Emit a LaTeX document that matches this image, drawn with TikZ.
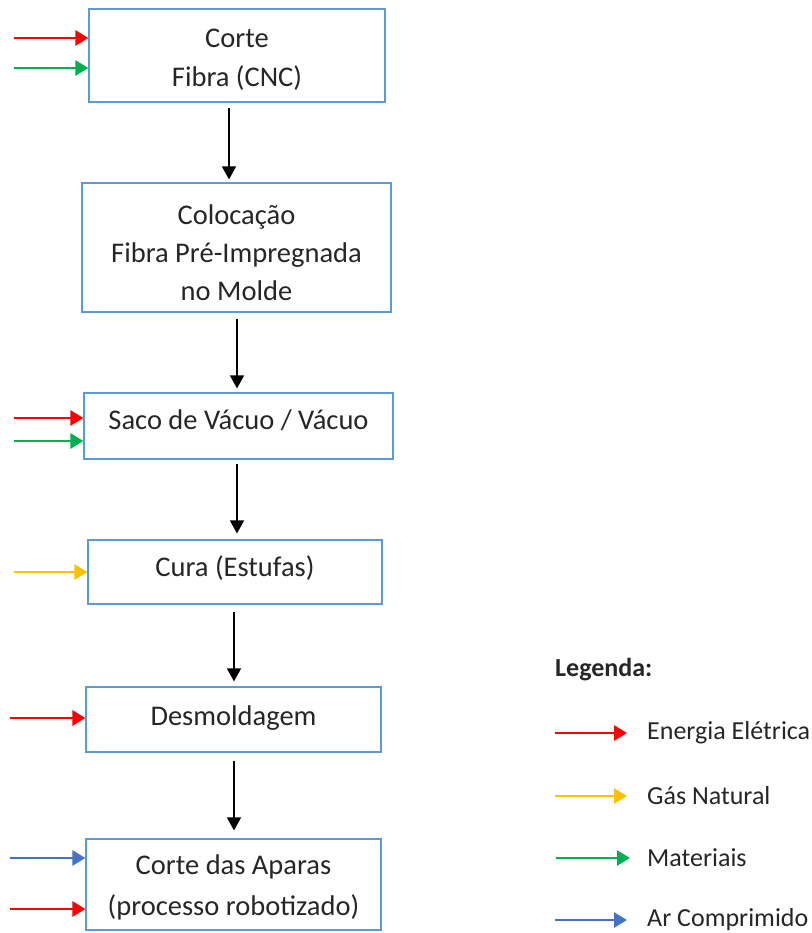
\documentclass[tikz,border=0pt]{standalone}
\usepackage{fontspec}
\setmainfont{Carlito}
\usetikzlibrary{arrows.meta,calc}
\definecolor{boxline}{HTML}{5B9BD5}
\definecolor{elec}{HTML}{FF0000}
\definecolor{gas}{HTML}{FFC000}
\definecolor{mat}{HTML}{00B050}
\definecolor{air}{HTML}{4472C4}
\begin{document}
\begin{tikzpicture}[x=1pt,y=-1pt,
  stepbox/.style={draw=boxline,line width=1.2pt,inner sep=0pt},
  steptext/.style={align=center,inner sep=0pt,text=black!85,
    font=\fontsize{28.5}{#1}\selectfont},
  steptext/.default=38,
  flow/.style={line width=1.6pt,-{Triangle[length=13pt,width=14pt]}},
  feed/.style={line width=2.8pt,-{Triangle[length=13pt,width=15pt]}},
  legtxt/.style={anchor=west,font=\fontsize{26}{30}\selectfont,text=black!85,inner sep=0pt}]
\useasboundingbox (0,0) rectangle (811,933);

% process steps (box with its caption set as a centred label)
\node[stepbox,minimum width=296pt,minimum height=93pt,
  label={[steptext=39,yshift=-4.5pt]center:Corte\\Fibra (CNC)}] (b1) at (237,55.5) {};
\node[stepbox,minimum width=309pt,minimum height=129pt,
  label={[steptext=38,yshift=-5pt]center:Colocação\\Fibra Pré-Impregnada\\no Molde}] (b2) at (236.5,247.5) {};
\node[stepbox,minimum width=309pt,minimum height=66pt,
  label={[steptext,yshift=6pt]center:Saco de Vácuo / Vácuo}] (b3) at (238.5,426) {};
\node[stepbox,minimum width=294pt,minimum height=64pt,
  label={[steptext,yshift=4pt]center:Cura (Estufas)}] (b4) at (235,572) {};
\node[stepbox,minimum width=295pt,minimum height=65pt,
  label={[steptext,yshift=1.5pt]center:Desmoldagem}] (b5) at (233.5,719.5) {};
\node[stepbox,minimum width=295pt,minimum height=91pt,
  label={[steptext=41,yshift=-2.5pt]center:Corte das Aparas\\(processo robotizado)}] (b6) at (233.5,884.5) {};

% flow between steps
\draw[flow] ([xshift=-8pt,yshift=-5pt]b1.south) -- ([xshift=-7.5pt,yshift=3pt]b2.north);
\draw[flow] ([xshift=0.5pt,yshift=-6pt]b2.south) -- ([xshift=-1.5pt,yshift=4pt]b3.north);
\draw[flow] ([xshift=-1.5pt,yshift=-4pt]b3.south) -- ([xshift=2pt,yshift=6pt]b4.north);
\draw[flow] ([xshift=-1pt,yshift=-7pt]b4.south) -- ([xshift=0.5pt,yshift=5pt]b5.north);
\draw[flow] ([xshift=0.5pt,yshift=-8pt]b5.south) -- ([xshift=0.5pt,yshift=8pt]b6.north);

% inputs to each step
\coordinate (i1a) at (14,38);  \coordinate (i1b) at (14,68);
\coordinate (i3a) at (14,418); \coordinate (i3b) at (14,441);
\coordinate (i4a) at (14,572);
\coordinate (i5a) at (10,718);
\coordinate (i6a) at (10,858); \coordinate (i6b) at (10,909);
\draw[feed,elec] (i1a) -- (b1.west |- i1a);
\draw[feed,mat]  (i1b) -- (b1.west |- i1b);
\draw[feed,elec] (i3a) -- (b3.west |- i3a);
\draw[feed,mat]  (i3b) -- (b3.west |- i3b);
\draw[feed,gas]  (i4a) -- (b4.west |- i4a);
\draw[feed,elec] (i5a) -- (b5.west |- i5a);
\draw[feed,air]  (i6a) -- (b6.west |- i6a);
\draw[feed,elec] (i6b) -- (b6.west |- i6b);

% legend
\node[anchor=west,inner sep=0pt,font=\fontsize{26}{30}\selectfont\bfseries,text=black!85] (leg) at (555,670) {Legenda:};
\node[legtxt] (l1) at (647,733) {Energia Elétrica};
\node[legtxt] (l2) at (647,796) {Gás Natural};
\node[legtxt] (l3) at (647,858) {Materiais};
\node[legtxt] (l4) at (647,920) {Ar Comprimido};
\coordinate (k1) at (555,733); \coordinate (k2) at (555,796);
\coordinate (k3) at (556,858); \coordinate (k4) at (555,920);
\draw[feed,elec] (k1) -- ++(72,0);
\draw[feed,gas]  (k2) -- ++(72,0);
\draw[feed,mat]  (k3) -- ++(74,0);
\draw[feed,air]  (k4) -- ++(72,0);
\end{tikzpicture}
\end{document}
